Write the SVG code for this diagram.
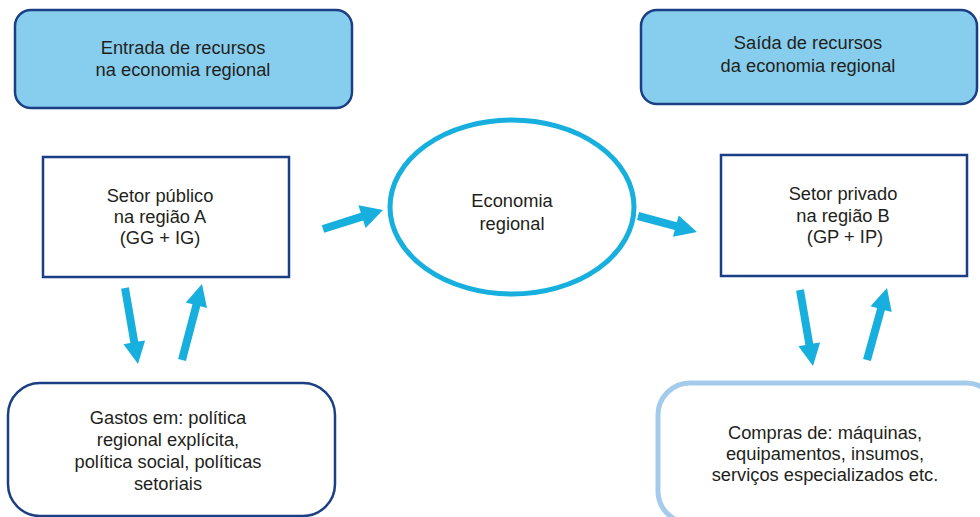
<svg xmlns="http://www.w3.org/2000/svg" width="980" height="517" viewBox="0 0 980 517">
<style>
.t{font-family:"Liberation Sans",Arial,sans-serif;font-size:18.3px;fill:#231f20;text-anchor:middle}
.hdr{fill:#87ceee;stroke:#1b3f84;stroke-width:2.5}
.sq{fill:#fff;stroke:#1b3f84;stroke-width:2.5}
.arr{fill:#16afde}
</style>
<rect width="980" height="517" fill="#fff"/>
<g id="entrada">
<rect class="hdr" x="15" y="10" width="337" height="98" rx="16"/>
<text class="t" x="183" y="54">Entrada de recursos</text>
<text class="t" x="183" y="76">na economia regional</text>
</g>
<g id="saida">
<rect class="hdr" x="641" y="10" width="336" height="94" rx="16"/>
<text class="t" x="808" y="49">Saída de recursos</text>
<text class="t" x="808" y="72">da economia regional</text>
</g>
<g id="setor-publico">
<rect class="sq" x="43" y="157" width="246" height="120"/>
<text class="t" x="160" y="202">Setor público</text>
<text class="t" x="160" y="223">na região A</text>
<text class="t" x="160" y="244">(GG + IG)</text>
</g>
<g id="economia">
<ellipse cx="512" cy="207" rx="122" ry="87" fill="#fff" stroke="#16afde" stroke-width="5"/>
<text class="t" x="512" y="207">Economia</text>
<text class="t" x="512" y="230">regional</text>
</g>
<g id="setor-privado">
<rect class="sq" x="721" y="155" width="246" height="121"/>
<text class="t" x="843" y="200">Setor privado</text>
<text class="t" x="843" y="222">na região B</text>
<text class="t" x="845" y="243">(GP + IP)</text>
</g>
<g id="gastos">
<rect x="8" y="383" width="327" height="133" rx="32" fill="#fff" stroke="#1b3f84" stroke-width="2.5"/>
<text class="t" x="168" y="424">Gastos em: política</text>
<text class="t" x="168" y="446">regional explícita,</text>
<text class="t" x="168" y="468">política social, políticas</text>
<text class="t" x="168" y="490">setoriais</text>
</g>
<g id="compras">
<rect x="658" y="383" width="340" height="140" rx="32" fill="#fff" stroke="#a4cbec" stroke-width="5"/>
<text class="t" x="825" y="439">Compras de: máquinas,</text>
<text class="t" x="825" y="460">equipamentos, insumos,</text>
<text class="t" x="825" y="481">serviços especializados etc.</text>
</g>
<g id="connectors">
<polygon class="arr" points="321.8,225.2 360.8,212.8 358.4,205.2 383,210 365.6,228.1 363.2,220.4 324.2,232.8"/>
<polygon class="arr" points="639.0,212.1 676.8,222.3 678.7,215.6 697,232 672.9,236.8 674.8,230.1 637.0,219.9"/>
<polygon class="arr" points="128.9,287.3 138.2,341.6 145.1,340.4 138,364 123.5,344.2 130.4,343.0 121.1,288.7"/>
<polygon class="arr" points="178.1,359.0 192.5,304.3 185.8,302.5 202,284 207.0,308.1 200.3,306.3 185.9,361.0"/>
<polygon class="arr" points="803.9,289.3 813.2,343.6 820.1,342.4 813,366 798.5,346.2 805.4,345.0 796.1,290.7"/>
<polygon class="arr" points="863.1,358.9 877.2,308.1 870.5,306.3 887,288 891.7,312.1 884.9,310.3 870.9,361.1"/>
</g>
</svg>
